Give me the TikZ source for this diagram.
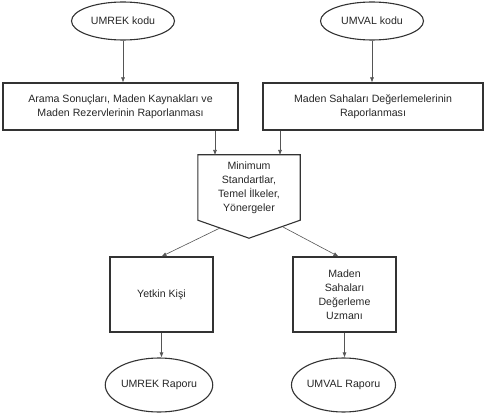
\documentclass[tikz,border=0pt]{standalone}
\usepackage{fontspec}
\setmainfont{Liberation Sans}
\usetikzlibrary{arrows.meta,shapes.geometric,calc}
\definecolor{kenar}{HTML}{333333}
\definecolor{ok}{HTML}{555555}
\tikzset{
  kod/.style={ellipse,draw=kenar,line width=1.1pt,minimum width=103pt,minimum height=38pt,inner sep=0pt},
  kutu/.style={rectangle,draw=kenar,line width=1.1pt,align=center,inner sep=2pt},
  okcizgi/.style={draw=ok,line width=0.6pt,-{Latex[length=5pt,width=4pt]}}
}
\begin{document}
\begin{tikzpicture}[x=1pt,y=-1pt,font=\fontsize{10.6}{14}\selectfont,text=black!85]
  \useasboundingbox (0,0) rectangle (485,417);
  \node[kod] (umrek) at (123,21) {UMREK kodu};
  \node[kod] (umval) at (372,21) {UMVAL kodu};
  \node[kutu,minimum width=235pt,minimum height=47pt] (rap1) at (120.5,106.5) {Arama Sonuçları, Maden Kaynakları ve\\Maden Rezervlerinin Raporlanması};
  \node[kutu,minimum width=220pt,minimum height=47pt] (rap2) at (373,106.5) {Maden Sahaları Değerlemelerinin\\Raporlanması};
  \draw[okcizgi] (umrek) -- (umrek |- rap1.north);
  \draw[okcizgi] (umval) -- (umval |- rap2.north);

  \node[align=center,minimum width=102pt,minimum height=65pt,inner sep=0pt] (std) at (249,187.5) {Minimum\\Standartlar,\\Temel İlkeler,\\Yönergeler};
  \draw[kenar,line width=1.1pt] (std.north west) -- (std.north east) -- (std.south east) -- ($(std.south)+(0,18)$) -- (std.south west) -- cycle;
  \coordinate (g1) at (215,155);
  \coordinate (g2) at (280,155);
  \draw[okcizgi] (rap1.south -| g1) -- (g1);
  \draw[okcizgi] (rap2.south -| g2) -- (g2);

  \node[kutu,minimum width=103pt,minimum height=75pt] (yetkin) at (161.5,294.5) {Yetkin Kişi};
  \node[kutu,minimum width=103pt,minimum height=75pt] (uzman) at (344.5,294.5) {Maden\\Sahaları\\Değerleme\\Uzmanı};
  \coordinate (c1) at (220,228);
  \coordinate (c2) at (283,227);
  \draw[okcizgi] (c1) -- (yetkin.north);
  \draw[okcizgi] (c2) -- ($(uzman.north)+(-6,0)$);

  \node[kod,minimum width=104pt,minimum height=54pt] (umrekr) at (159,385) {UMREK Raporu};
  \node[kod,minimum width=104pt,minimum height=54pt] (umvalr) at (343.5,385) {UMVAL Raporu};
  \draw[okcizgi] (yetkin) -- (yetkin |- umrekr.north);
  \draw[okcizgi] (uzman) -- (uzman |- umvalr.north);
\end{tikzpicture}
\end{document}
